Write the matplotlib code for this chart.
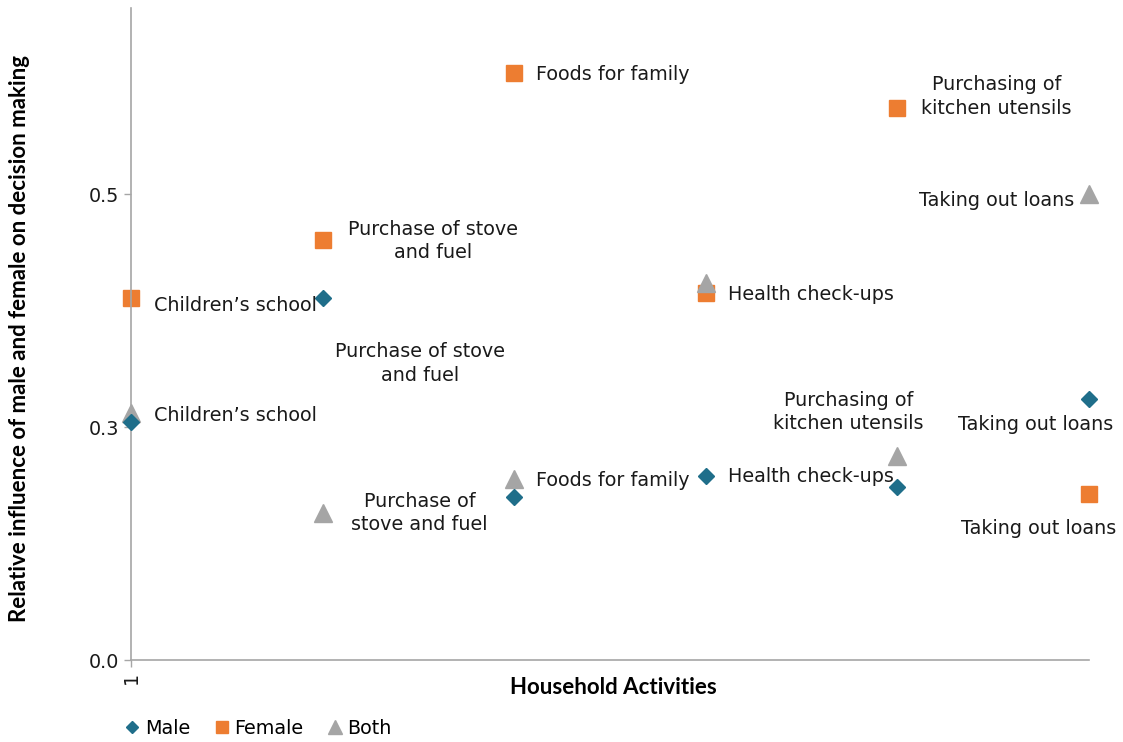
import numpy as np
import matplotlib
matplotlib.use("Agg")
import matplotlib.pyplot as plt

plt.rcParams['font.family'] = ['DejaVu Sans']

# activity index on the x axis
activity = [1, 2, 3, 4, 5, 6]
names = ["Children\u2019s school", "Purchase of stove\nand fuel", "Foods for family",
         "Health check-ups", "Purchasing of\nkitchen utensils", "Taking out loans"]

male = [0.256, 0.389, 0.175, 0.198, 0.186, 0.280]
female = [0.389, 0.451, 0.630, 0.394, 0.593, 0.178]
both = [0.265, 0.158, 0.194, 0.405, 0.219, 0.500]

# which points carry a label (text chosen from names, or own text)
male_lab = [None, "Purchase of stove\nand fuel", None, "Health check-ups", None, "Taking out loans"]
female_lab = [names[0], names[1], names[2], names[3], names[4], names[5]]
both_lab = [names[0], "Purchase of\nstove and fuel", names[2], None,
            "Purchasing of\nkitchen utensils", names[5]]

# label placement (pixel offsets, alignment)
male_pos = [None, (97, -66, 'center'), None, (22, -1, 'left'), None, (-53, -25, 'center')]
female_pos = [(23, -8, 'left'), (110, -1, 'center'), (22, -1, 'left'), (22, -1, 'left'),
              (99, 11, 'center'), (-50, -34, 'center')]
both_pos = [(23, -2, 'left'), (97, 0, 'center'), (22, -1, 'left'), None,
            (-49, 44, 'center'), (-15, -6, 'right')]

c_male = '#1f6e8a'
c_female = '#ed7d31'
c_both = '#a5a5a5'
axis_c = '#a6a6a6'
fs = 13.8

fig = plt.figure(figsize=(11.23, 7.42), dpi=100)
ax = fig.add_axes([131/1123, 1-660/742, (1089-131)/1123, 652/742])

ax.plot(activity, male, 'D', color=c_male, markersize=8.5, clip_on=False,
        label='Male', zorder=3)
ax.plot(activity, female, 's', color=c_female, markersize=12, clip_on=False,
        label='Female', zorder=2)
ax.plot(activity, both, '^', color=c_both, markersize=13, clip_on=False,
        label='Both', zorder=2.5)

for vals, labs, pos in [(male, male_lab, male_pos), (female, female_lab, female_pos),
                        (both, both_lab, both_pos)]:
    for xv, yv, t, p in zip(activity, vals, labs, pos):
        if t is None:
            continue
        ax.annotate(t, (xv, yv), xytext=(p[0], p[1]), textcoords='offset pixels',
                    ha=p[2], va='center', multialignment='center',
                    fontsize=fs, color='#1a1a1a', linespacing=1.3)

ax.set_xlim(1, 6)
ax.set_ylim(0, 0.7)
ax.set_xticks([1])
ax.set_xticklabels(['1'], rotation=90, fontsize=fs)
ax.set_yticks([0, 0.25, 0.5])
ax.set_yticklabels(['0.0', '0.3', '0.5'], fontsize=fs)
ax.tick_params(axis='both', colors=axis_c, labelcolor='#1a1a1a', length=5, width=1)
for s in ['top', 'right']:
    ax.spines[s].set_visible(False)
for s in ['left', 'bottom']:
    ax.spines[s].set_color(axis_c)
    ax.spines[s].set_linewidth(1.2)

ax.set_xlabel('Household Activities', fontsize=16, fontweight='bold', family='Lato')
ax.xaxis.set_label_coords((613-131)/(1089-131), -(677-660)/652)
ax.set_ylabel('Relative influence of male and female on decision making',
              fontsize=16, fontweight='bold', family='Lato')
ax.yaxis.set_label_coords(-(131-30)/(1089-131), (660-338)/652)

fig.legend(loc='center left', bbox_to_anchor=(117/1123, 1-728/742), ncol=3,
           frameon=False, fontsize=fs, handlelength=0.8, handletextpad=0.25,
           columnspacing=1.25, markerscale=0.75, borderaxespad=0)

fig.savefig('out.png', dpi=100)
